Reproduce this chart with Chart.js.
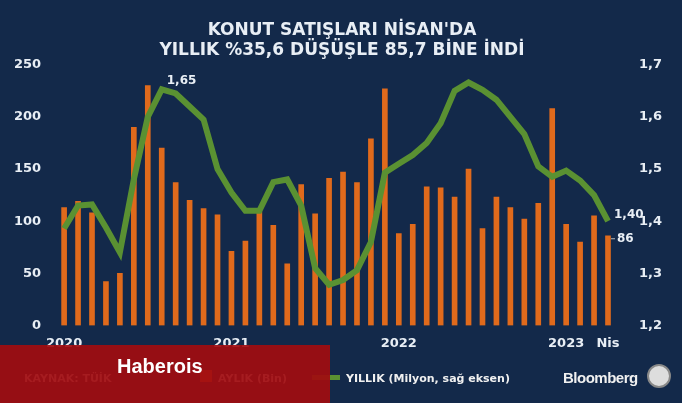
<!DOCTYPE html>
<html><head><meta charset="utf-8">
<script src="https://cdn.jsdelivr.net/npm/chart.js@4"></script>
<style>
body{margin:0;background:#13294a;width:682px;height:403px;overflow:hidden;font-family:Verdana,"DejaVu Sans",sans-serif}
#wrap{position:absolute;left:0;top:0;width:682px;height:403px}
.ft{position:absolute;font-weight:bold;font-size:11px;color:#f0f0f0}
</style></head><body>
<div id="wrap"><canvas id="c" width="682" height="403"></canvas></div>
<div class="ft" style="left:24px;top:372px;color:#e8e8e8">KAYNAK: TÜİK</div>
<div style="position:absolute;left:200px;top:370px;width:12px;height:12px;background:#e06a1c"></div>
<div class="ft" style="left:218px;top:372px">AYLIK (Bin)</div>
<div style="position:absolute;left:312px;top:375px;width:28px;height:5px;background:#5a9132"></div>
<div class="ft" style="left:346px;top:372px">YILLIK (Milyon, sağ eksen)</div>
<div class="ft" style="left:563px;top:369px;font-family:'Liberation Sans',Arial;font-size:15px;letter-spacing:-0.5px">Bloomberg</div>
<div style="position:absolute;left:647px;top:364px;width:24px;height:24px;border-radius:50%;background:#ddd;border:2px solid #888;box-sizing:border-box"></div>
<div style="position:absolute;left:0;top:345px;width:330px;height:58px;background:rgba(160,12,16,0.93)"></div>
<div style="position:absolute;left:117px;top:355px;color:#fff;font-family:'Liberation Sans',Arial;font-weight:bold;font-size:20px">Haberois</div>
<script>
const months=["Oca","Şub","Mar","Nis","May","Haz","Tem","Ağu","Eyl","Eki","Kas","Ara"];
const categories=[];
for(let y=2020;y<=2023;y++)for(let m=0;m<12;m++){if(y===2023&&m>3)break;categories.push(months[m]+" "+y);}
const tickLabels={"Oca 2020":"2020","Oca 2021":"2021","Oca 2022":"2022","Oca 2023":"2023","Nis 2023":"Nis"};
const monthly=[113,119,108,42,50,190,230,170,137,120,112,106,71,81,109,96,59,135,107,141,147,137,179,227,88,97,133,132,123,150,93,123,113,102,117,208,97,80,105,86];
const yearly=[1.386,1.43,1.432,1.388,1.34,1.48,1.60,1.653,1.645,1.62,1.595,1.50,1.455,1.42,1.42,1.475,1.48,1.43,1.31,1.278,1.287,1.306,1.36,1.493,1.51,1.527,1.55,1.588,1.65,1.666,1.652,1.633,1.60,1.567,1.505,1.485,1.497,1.478,1.45,1.40];
const fontB={family:"Verdana, 'DejaVu Sans', sans-serif",weight:"bold",size:13};
const labels={id:"lbl",afterDatasetsDraw(ch){const c=ch.ctx;c.save();c.fillStyle="#e8eef5";c.font="bold 12px Verdana, 'DejaVu Sans', sans-serif";
const l=ch.getDatasetMeta(1).data,b=ch.getDatasetMeta(0).data;
c.textAlign="left";c.textBaseline="middle";
c.fillText("1,65",l[7].x+5,l[7].y-8);
const n=l.length-1;c.fillText("1,40",l[n].x+6,l[n].y-6);
c.fillText("86",b[n].x+9,b[n].y+3);
c.strokeStyle="#bbb";c.lineWidth=1;c.beginPath();c.moveTo(b[n].x+3,b[n].y+3);c.lineTo(b[n].x+7,b[n].y+3);c.stroke();
c.restore();}};
new Chart(document.getElementById("c"),{
data:{labels:categories,datasets:[
{type:"bar",data:monthly,backgroundColor:"#e06a1c",barThickness:5,yAxisID:"y",order:2},
{type:"line",data:yearly,borderColor:"#5a9132",borderWidth:6,pointRadius:0,tension:0,yAxisID:"y1",order:1}]},
options:{responsive:false,animation:false,
layout:{padding:{left:6,right:4,top:12,bottom:50}},
plugins:{legend:{display:false},tooltip:{enabled:false},
title:{display:true,text:["KONUT SATIŞLARI NİSAN'DA","YILLIK %35,6 DÜŞÜŞLE 85,7 BİNE İNDİ"],color:"#e8eef5",font:{family:"Verdana, 'DejaVu Sans', sans-serif",weight:"bold",size:17},padding:{top:8,bottom:4},lineHeight:1.2}},
scales:{
x:{grid:{display:false},border:{display:false},offset:true,
ticks:{autoSkip:false,maxRotation:0,color:"#e8eef5",font:fontB,padding:2,callback:function(v){return tickLabels[this.getLabelForValue(v)]||"";}}},
y:{min:0,max:250,grid:{display:false},border:{display:false},ticks:{stepSize:50,color:"#e8eef5",font:fontB,padding:8}},
y1:{position:"right",min:1.2,max:1.7,grid:{display:false},border:{display:false},ticks:{stepSize:0.1,color:"#e8eef5",font:fontB,padding:16,callback:v=>v.toFixed(1).replace(".",",")}}
}},plugins:[labels]});
</script></body></html>
